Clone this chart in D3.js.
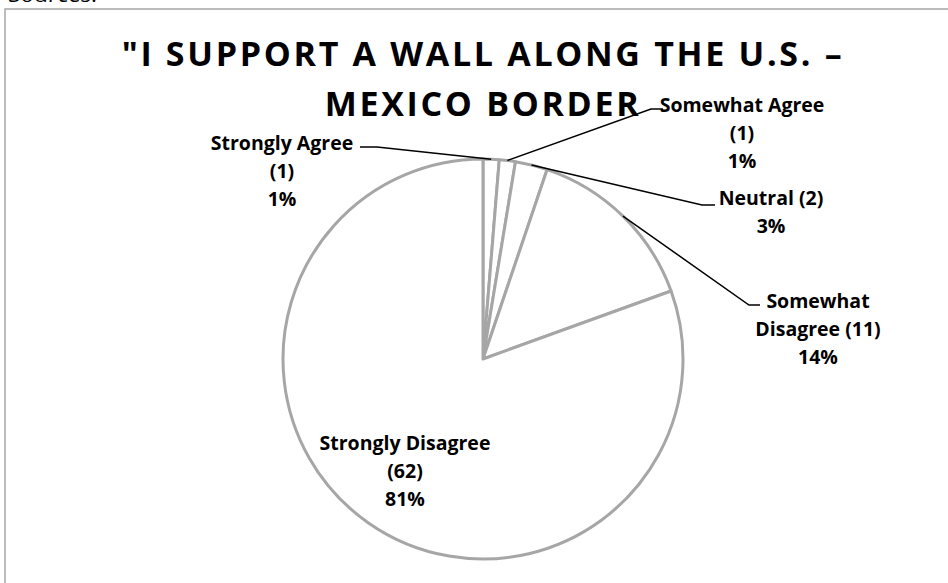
<!DOCTYPE html>
<html>
<head>
<meta charset="utf-8">
<script src="https://cdn.jsdelivr.net/npm/d3@7"></script>
<style>
  html, body { margin: 0; padding: 0; background: #fff; }
  svg { display: block; }
  text { font-family: "Open Sans", "Liberation Sans", sans-serif; fill: #000; }
</style>
</head>
<body>
<svg id="chart" width="948" height="583"></svg>
<script>
// Survey responses
const categories = ["Strongly Agree", "Somewhat Agree", "Neutral", "Somewhat Disagree", "Strongly Disagree"];
const counts = [1, 1, 2, 11, 62];
const titleLines = ["\"I SUPPORT A WALL ALONG THE U.S. \u2013", "MEXICO BORDER"];

// Label placement: how each label wraps, where it sits, and the elbow of its leader line
const labelLayout = [
  { wrap: ["Strongly Agree", "(1)"],     x: 282, y: 143, elbow: [377, 147], stub: 360 },
  { wrap: ["Somewhat Agree", "(1)"],     x: 742, y: 105, elbow: [651, 109], stub: 663 },
  { wrap: ["Neutral (2)"],               x: 771, y: 198, elbow: [702, 205], stub: 715 },
  { wrap: ["Somewhat", "Disagree (11)"], x: 818, y: 301, elbow: [749, 305], stub: 760 },
  { wrap: ["Strongly Disagree", "(62)"], x: 405, y: 443, elbow: null, stub: null }
];

const svg = d3.select("#chart");

// Chart frame (runs past the right and bottom edges of the page)
svg.append("rect")
  .attr("x", 5).attr("y", 9)
  .attr("width", 960).attr("height", 600)
  .attr("fill", "#fff")
  .attr("stroke", "#a6a6a6")
  .attr("stroke-width", 1.5);

// Caption of the surrounding document, cut off at the top
svg.append("text")
  .attr("x", 8).attr("y", 2)
  .attr("font-size", 20)
  .attr("textLength", 89)
  .attr("lengthAdjust", "spacingAndGlyphs")
  .text("Sources:");

// Title
const titleSize = 34;
const t1 = svg.append("text")
  .attr("x", 483).attr("y", 66)
  .attr("text-anchor", "middle")
  .attr("font-size", titleSize)
  .attr("font-weight", "bold")
  .text(titleLines[0]);
const natural = t1.node().getComputedTextLength();
const spacing = (720 - natural) / (titleLines[0].length - 1);
t1.attr("letter-spacing", spacing);
svg.append("text")
  .attr("x", 483).attr("y", 116)
  .attr("text-anchor", "middle")
  .attr("font-size", titleSize)
  .attr("font-weight", "bold")
  .attr("letter-spacing", spacing)
  .text(titleLines[1]);

// Pie
const cx = 483, cy = 359, R = 200;
const total = d3.sum(counts);
const pie = d3.pie().sort(null).value(d => d)(counts);
const arc = d3.arc().innerRadius(0).outerRadius(R);

const g = svg.append("g").attr("transform", `translate(${cx},${cy})`);
g.selectAll("path.slice")
  .data(pie)
  .join("path")
  .attr("class", "slice")
  .attr("d", arc)
  .attr("fill", "#fff")
  .attr("stroke", "#a6a6a6")
  .attr("stroke-width", 3)
  .attr("stroke-linejoin", "round");

// Leader lines from each slice's outer edge to its label
pie.forEach((p, i) => {
  const L = labelLayout[i];
  if (!L.elbow) return;
  const mid = (p.startAngle + p.endAngle) / 2;
  const ex = cx + R * Math.sin(mid), ey = cy - R * Math.cos(mid);
  svg.append("polyline")
    .attr("points", [[ex, ey], L.elbow, [L.stub, L.elbow[1]]].map(d => d.join(",")).join(" "))
    .attr("fill", "none")
    .attr("stroke", "#000")
    .attr("stroke-width", 1.5);
});

// Labels: category with count, then percentage
const lineH = 28;
pie.forEach((p, i) => {
  const L = labelLayout[i];
  const pct = Math.round(counts[i] / total * 100) + "%";
  const lines = L.wrap.concat([pct]);
  const txt = svg.append("text")
    .attr("text-anchor", "middle")
    .attr("font-size", 19.5)
    .attr("font-weight", "bold");
  lines.forEach((s, k) => {
    txt.append("tspan")
      .attr("x", L.x)
      .attr("y", L.y + k * lineH)
      .attr("dy", "0.36em")
      .text(s);
  });
});
</script>
</body>
</html>
